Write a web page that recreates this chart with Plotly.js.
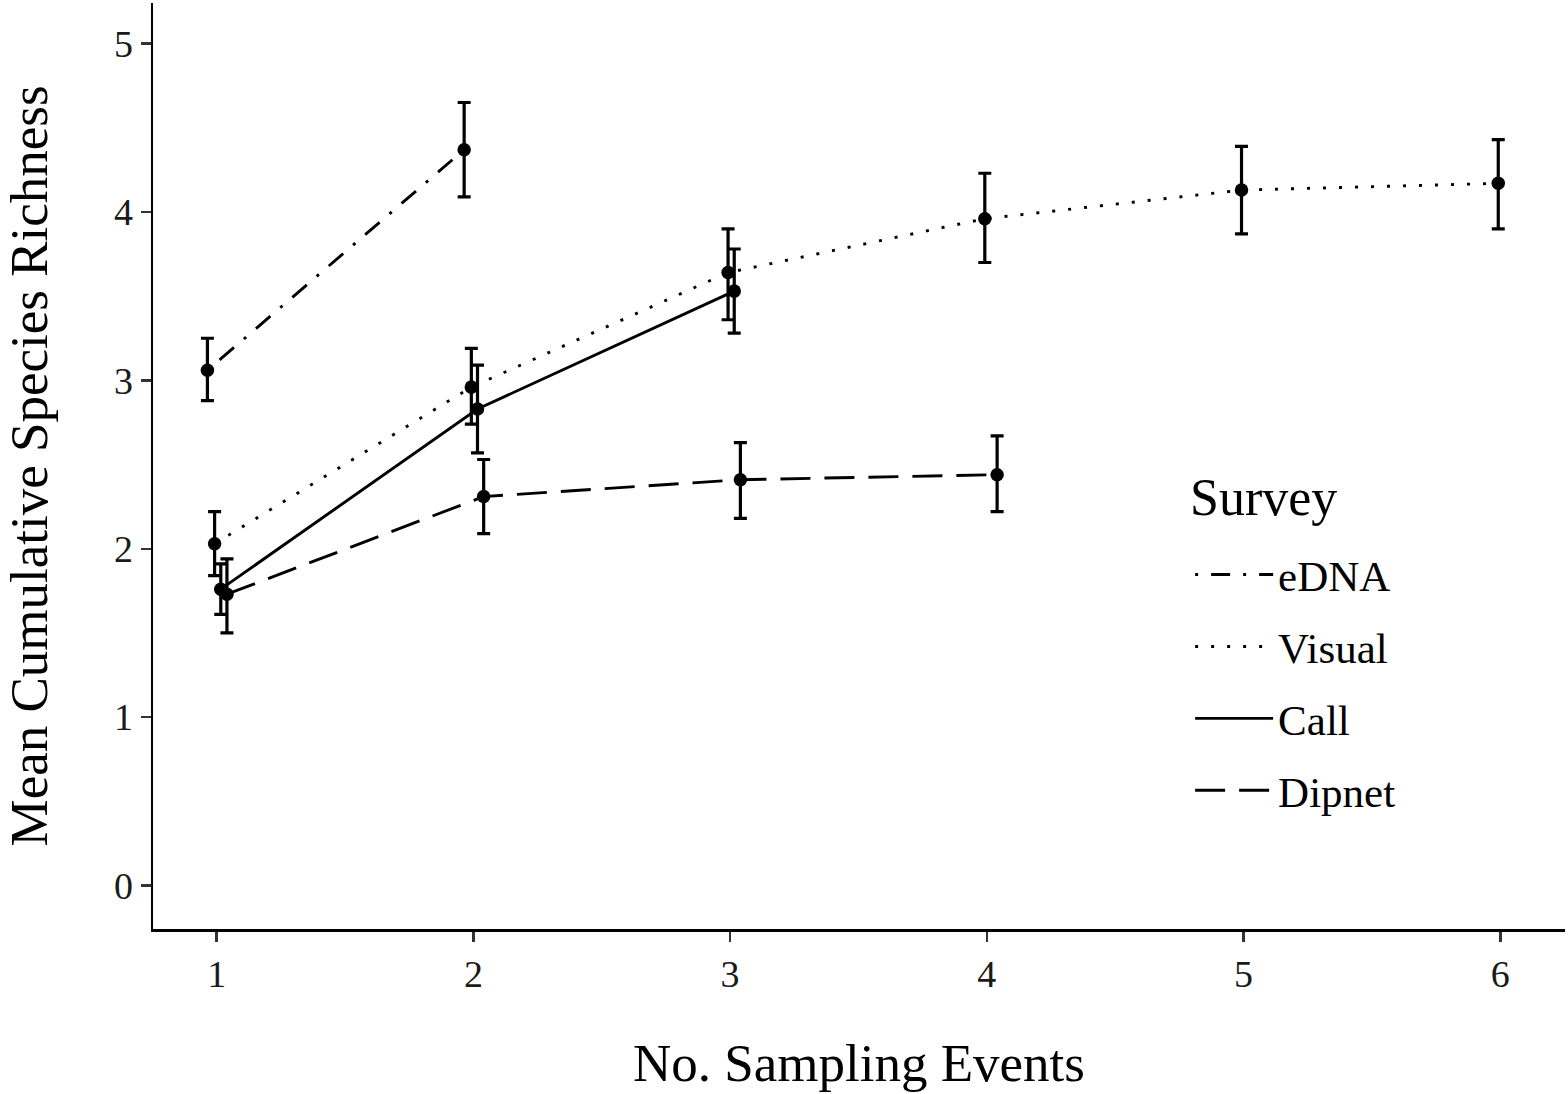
<!DOCTYPE html>
<html>
<head>
<meta charset="utf-8">
<script src="https://cdn.plot.ly/plotly-3.0.1.min.js"></script>
<style>
  html, body { margin: 0; padding: 0; background: #fff; }
  #chart { width: 1568px; height: 1094px; }
</style>
</head>
<body>
<div id="chart"></div>
<script>
// survey methods, in legend order
var surveys = ['eDNA', 'Visual', 'Call', 'Dipnet'];

// number of sampling events per survey
var eventsEdna   = [1, 2];
var eventsVisual = [1, 2, 3, 4, 5, 6];
var eventsCall   = [1, 2, 3];
var eventsDipnet = [1, 2, 3, 4];

// mean cumulative species richness
var meanEdna   = [3.06, 4.37];
var meanVisual = [2.03, 2.96, 3.64, 3.96, 4.13, 4.17];
var meanCall   = [1.76, 2.83, 3.53];
var meanDipnet = [1.73, 2.31, 2.41, 2.44];

// upper / lower ends of the error bars
var hiEdna   = [3.25, 4.65];
var loEdna   = [2.88, 4.09];
var hiVisual = [2.22, 3.19, 3.90, 4.23, 4.39, 4.43];
var loVisual = [1.84, 2.74, 3.36, 3.70, 3.87, 3.90];
var hiCall   = [1.91, 3.09, 3.78];
var loCall   = [1.61, 2.57, 3.28];
var hiDipnet = [1.94, 2.53, 2.63, 2.67];
var loDipnet = [1.50, 2.09, 2.18, 2.22];

var xTicks = [1, 2, 3, 4, 5, 6];
var yTicks = [0, 1, 2, 3, 4, 5];

// styling (position_dodge-like offsets, dash patterns)
var dodge = {eDNA: -0.036, Visual: -0.008, Call: 0.016, Dipnet: 0.04};
var dashes = {
  eDNA: '3px,13px,19px,13px',
  Visual: '3px,13px',
  Call: 'solid',
  Dipnet: '30px,14px'
};

var series = {
  eDNA:   {x: eventsEdna,   y: meanEdna,   hi: hiEdna,   lo: loEdna},
  Visual: {x: eventsVisual, y: meanVisual, hi: hiVisual, lo: loVisual},
  Call:   {x: eventsCall,   y: meanCall,   hi: hiCall,   lo: loCall},
  Dipnet: {x: eventsDipnet, y: meanDipnet, hi: hiDipnet, lo: loDipnet}
};

var FONT = '"Liberation Serif", "Times New Roman", Times, serif';
var traces = [];

surveys.forEach(function(name) {
  var s = series[name];
  var xs = s.x.map(function(v) { return v + dodge[name]; });
  traces.push({
    x: xs,
    y: s.y,
    name: name,
    legendgroup: name,
    type: 'scatter',
    mode: 'lines',
    line: {color: '#000', width: 2.9, dash: dashes[name]},
    hoverinfo: 'skip'
  });
  traces.push({
    x: xs,
    y: s.y,
    name: name,
    legendgroup: name,
    showlegend: false,
    type: 'scatter',
    mode: 'markers',
    marker: {color: '#000', size: 13.5},
    error_y: {
      type: 'data',
      symmetric: false,
      array: s.hi.map(function(v, i) { return v - s.y[i]; }),
      arrayminus: s.lo.map(function(v, i) { return s.y[i] - v; }),
      color: '#000',
      thickness: 3.2,
      width: 6.5
    }
  });
});

var layout = {
  width: 1568,
  height: 1094,
  paper_bgcolor: '#fff',
  plot_bgcolor: '#fff',
  font: {family: FONT, color: '#000'},
  margin: {l: 153, r: 3, t: 3, b: 165},
  showlegend: true,
  xaxis: {
    range: [0.752, 6.252],
    tickvals: xTicks,
    ticktext: xTicks.map(String),
    showgrid: false,
    zeroline: false,
    showline: true,
    linecolor: '#000',
    linewidth: 2.5,
    ticks: 'outside',
    ticklen: 10,
    tickwidth: 2.5,
    tickcolor: '#333',
    tickfont: {family: FONT, size: 38, color: '#1a1a1a'},
    title: {
      text: 'No. Sampling Events',
      font: {family: FONT, size: 53, color: '#000'},
      standoff: 50
    }
  },
  yaxis: {
    range: [-0.258, 5.241],
    tickvals: yTicks,
    ticktext: yTicks.map(String),
    showgrid: false,
    zeroline: false,
    showline: true,
    linecolor: '#000',
    linewidth: 2.5,
    ticks: 'outside',
    ticklen: 10,
    tickwidth: 2.5,
    tickcolor: '#333',
    tickfont: {family: FONT, size: 38, color: '#1a1a1a'},
    title: {
      text: 'Mean Cumulative Species Richness',
      font: {family: FONT, size: 53, color: '#000'},
      standoff: 66
    }
  },
  legend: {
    x: 0.7345,
    y: 0.420,
    xanchor: 'left',
    yanchor: 'top',
    bgcolor: 'rgba(0,0,0,0)',
    borderwidth: 0,
    traceorder: 'grouped',
    tracegroupgap: 13,
    itemwidth: 78,
    font: {family: FONT, size: 43, color: '#000'}
  },
  annotations: [{
    text: 'Survey',
    xref: 'paper',
    yref: 'paper',
    x: 0.733,
    y: 0.4665,
    xanchor: 'left',
    yanchor: 'middle',
    showarrow: false,
    font: {family: FONT, size: 52, color: '#000'}
  }]
};

Plotly.newPlot('chart', traces, layout, {displayModeBar: false, staticPlot: true});
</script>
</body>
</html>
